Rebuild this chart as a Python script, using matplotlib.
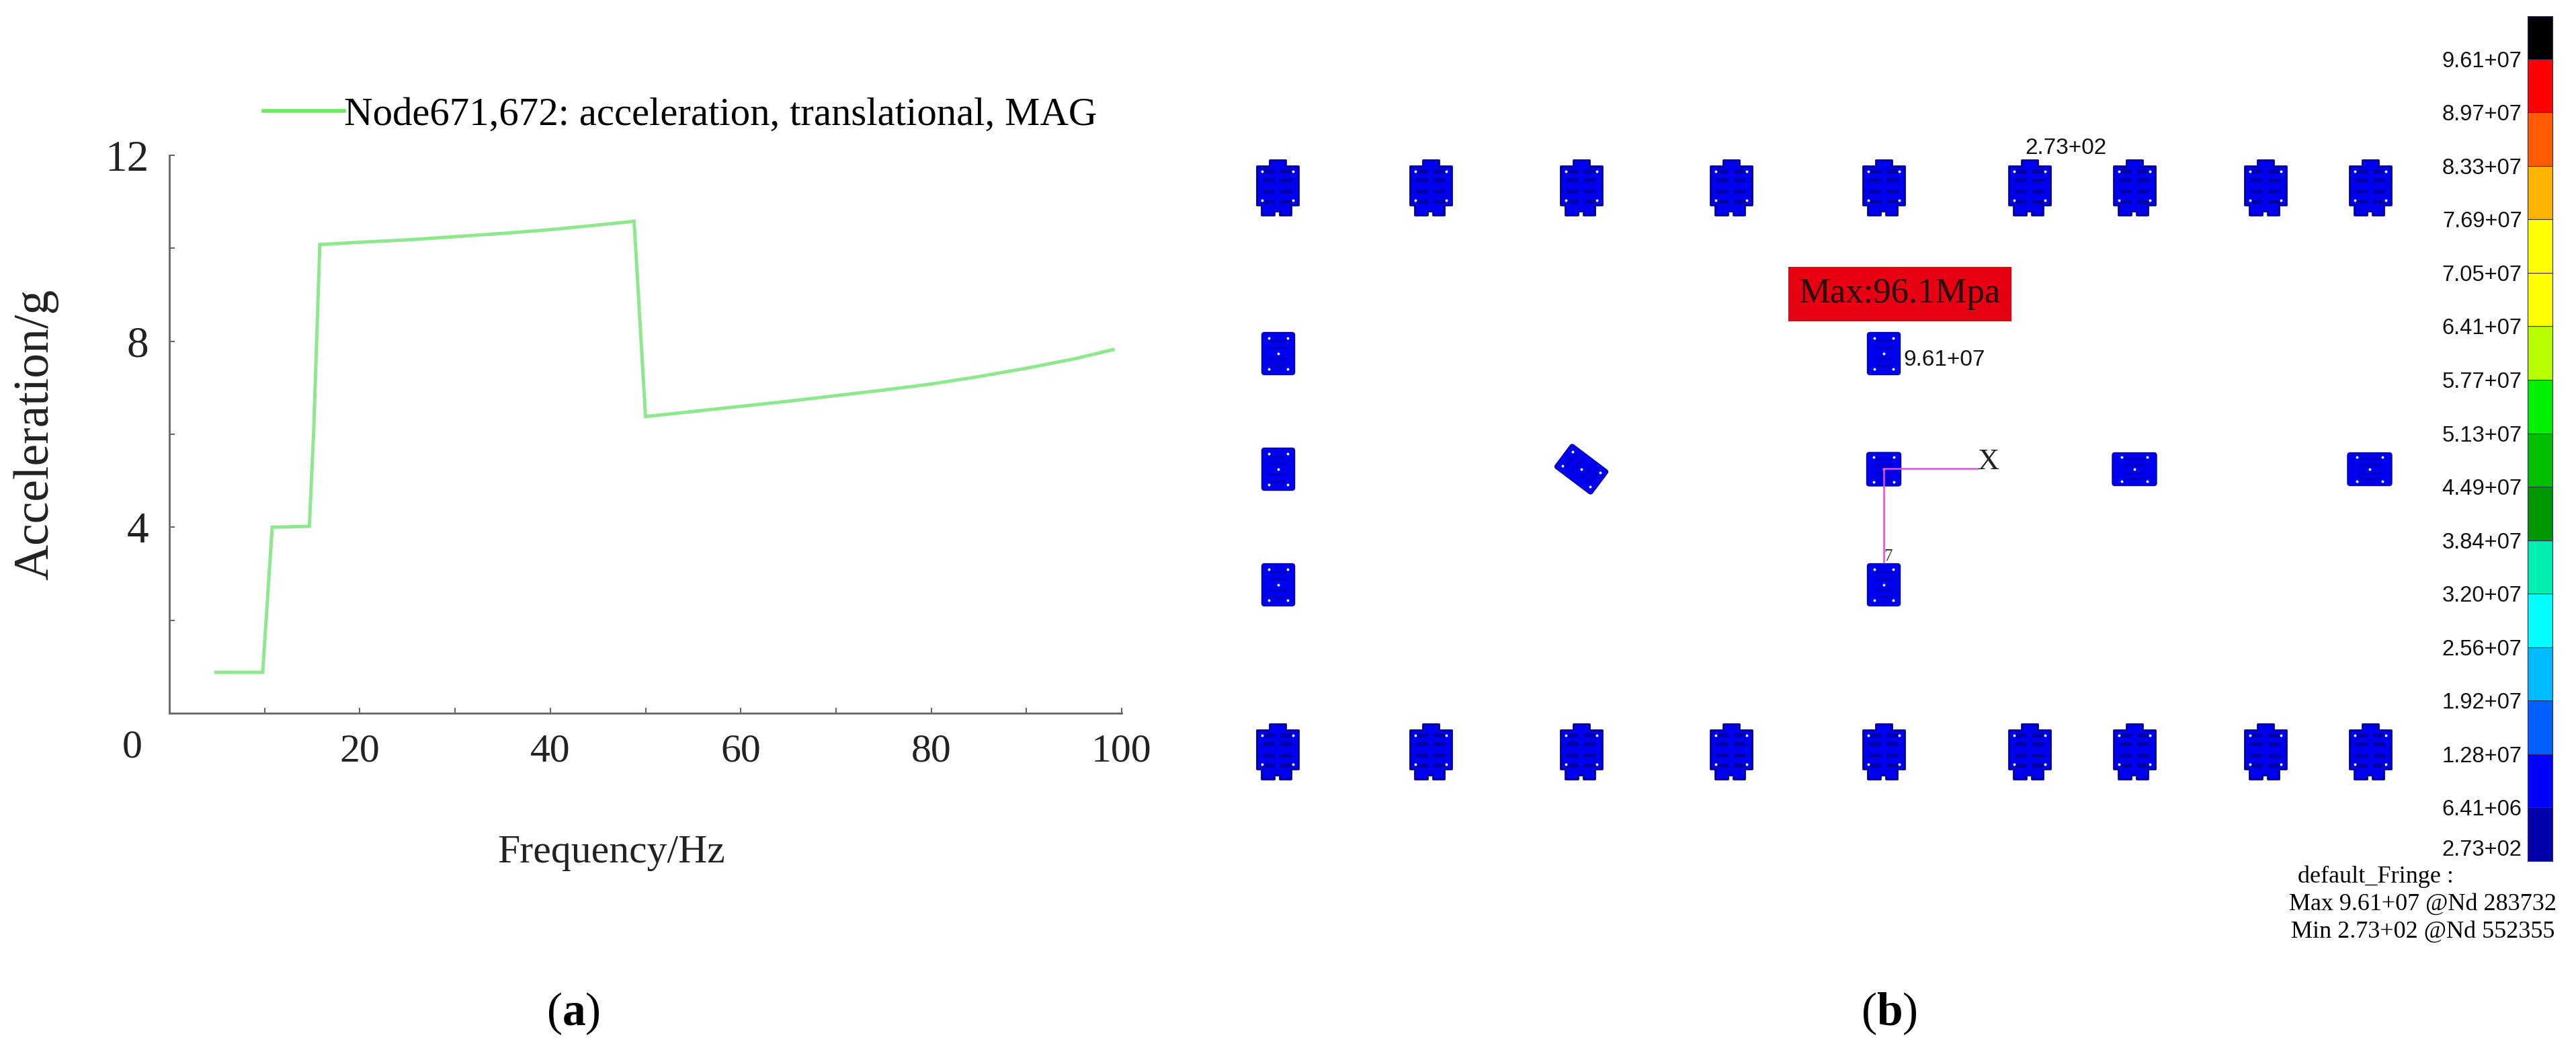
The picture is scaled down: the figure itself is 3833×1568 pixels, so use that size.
import matplotlib
matplotlib.use("Agg")

import matplotlib.pyplot as plt
import numpy as np
from matplotlib.patches import FancyBboxPatch, Polygon, Rectangle
from matplotlib.transforms import Affine2D

W, H = 3833, 1568
SERIF = "Liberation Serif"
SANS = "Liberation Sans"

plt.rcParams["font.family"] = SERIF
plt.rcParams["mathtext.fontset"] = "custom"
plt.rcParams["mathtext.rm"] = "Liberation Serif"
plt.rcParams["mathtext.bf"] = "Liberation Serif:bold"

# panel (a)
freq = [4.9, 9.8, 10.8, 14.7, 15.15, 15.8, 20, 25, 30, 35, 40, 45, 48.8, 50,
        55, 60, 65, 70, 75, 80, 85, 90, 95, 99.1]
accel = [0.88, 0.88, 4.0, 4.02, 6.04, 10.08, 10.13, 10.18, 10.25, 10.32, 10.4, 10.5, 10.58, 6.38,
         6.49, 6.6, 6.71, 6.83, 6.95, 7.08, 7.24, 7.42, 7.62, 7.82]
x_ticks = [20, 40, 60, 80, 100]
y_ticks = [4, 8, 12]
x_minor = [10, 30, 50, 70, 90]
y_minor = [2, 6, 10]

# panel (b), plate centres in picture pixels
row_x = [1901, 2129, 2353, 2576, 2803, 3020, 3176, 3371, 3527]
row_y = [279, 1118]
portrait_xy = [(1902, 526), (1902, 698), (1902, 870), (2803, 526), (2803, 870)]
square_xy = (2803, 698)
landscape_x = [3176, 3526]
landscape_y = 698
rotated_xy = (2353, 698)

fringe_values = ["2.73+02", "6.41+06", "1.28+07", "1.92+07", "2.56+07", "3.20+07", "3.84+07", "4.49+07",
                 "5.13+07", "5.77+07", "6.41+07", "7.05+07", "7.69+07", "8.33+07", "8.97+07", "9.61+07"]
fringe_positions = [0.25, 1, 2, 3, 4, 5, 6, 7, 8, 9, 10, 11, 12, 13, 14, 15]
fringe_colors = ["#0000a8", "#0000ff", "#0060ff", "#00bcff", "#00ffff", "#00eeb0", "#009600", "#00c000",
                 "#00f000", "#b8ff00", "#ffff00", "#ffff00", "#ffb400", "#ff5a00", "#ff0000", "#000000"]
fringe_heights = [1.0] * 15 + [0.8]

BLUE = "#0000f0"
DARK = "#000098"


def add_big_plate(ax, cx, cy):
    outline = [(-12, -41), (12, -41), (12, -32), (31, -32), (31, 26), (20, 26), (20, 41), (3, 41), (3, 35),
               (-5, 35), (-5, 41), (-24, 41), (-24, 26), (-31, 26), (-31, -32), (-12, -32)]
    ax.add_patch(Polygon([(cx + x, cy + y) for x, y in outline], closed=True, fc=BLUE, ec=DARK, lw=2,
                         joinstyle="round"))
    for my in [-24, -11, 6, 21]:
        for mx in [-13, 13]:
            ax.add_patch(Rectangle((cx + mx - 9, cy + my - 3), 18, 6, fc=DARK, ec="none", alpha=0.8))
    for hx, hy in [(-23, -24), (23, -24), (-23, 19), (23, 19)]:
        ax.plot(cx + hx, cy + hy, "o", ms=2.8, color="white", mew=0)


def add_small_plate(ax, cx, cy, w, h, angle=0.0):
    tr = Affine2D().rotate_deg_around(cx, cy, angle) + ax.transData
    ax.add_patch(FancyBboxPatch((cx - w / 2, cy - h / 2), w, h, boxstyle="round,pad=0,rounding_size=4",
                                fc=BLUE, ec=DARK, lw=1.0, transform=tr))
    for my in [-0.3, -0.12, 0.12, 0.3]:
        ax.add_patch(Rectangle((cx - w * 0.26, cy + my * h - 2), w * 0.52, 4, fc=DARK, ec="none",
                               alpha=0.45, transform=tr))
    for hx, hy in [(-0.29, -0.37), (0.29, -0.37), (-0.29, 0.37), (0.29, 0.37), (0, 0)]:
        ax.plot(cx + hx * w, cy + hy * h, "o", ms=2.8, color="white", mew=0, transform=tr)


fig = plt.figure(figsize=(W / 100, H / 100), dpi=100)

# panel (b) drawn in a full-figure axes with picture coordinates
ax_b = fig.add_axes([0, 0, 1, 1])
ax_b.set_xlim(0, W)
ax_b.set_ylim(H, 0)
ax_b.axis("off")

for cy in row_y:
    for cx in row_x:
        add_big_plate(ax_b, cx, cy)
for cx, cy in portrait_xy:
    add_small_plate(ax_b, cx, cy, 49, 63)
add_small_plate(ax_b, square_xy[0], square_xy[1], 51, 50)
for cx in landscape_x:
    add_small_plate(ax_b, cx, landscape_y, 66, 49)
add_small_plate(ax_b, rotated_xy[0], rotated_xy[1], 44, 69, angle=-53)

ax_b.plot([2803, 2943], [697, 697], color="#e050e0", lw=1.8)
ax_b.plot([2803, 2803], [697, 836], color="#e050e0", lw=1.8)
ax_b.text(2959, 687, "X", fontsize=32, ha="center", va="center", color="#222222")
ax_b.text(2810, 828, "7", fontsize=18, ha="center", va="center", color="#333333")

ax_b.add_patch(Rectangle((2661, 397), 332, 81, fc="#e60012", ec="none"))
ax_b.text(2827, 437, "Max:96.1Mpa", fontsize=38, ha="center", va="center", color="#241010")
ax_b.text(2893, 535, "9.61+07", fontsize=24, ha="center", va="center", family=SANS, color="#111111")
ax_b.text(3074, 220, "2.73+02", fontsize=24, ha="center", va="center", family=SANS, color="#111111")

ax_b.text(3535, 1304, "default_Fringe :", fontsize=26, ha="center", va="center")
ax_b.text(3605, 1345, "Max 9.61+07 @Nd 283732", fontsize=26, ha="center", va="center")
ax_b.text(3605, 1386, "Min 2.73+02 @Nd 552355", fontsize=26, ha="center", va="center")

ax_b.text(853, 1508, r"($\mathbf{a}$)", fontsize=50, ha="center", va="center")
ax_b.text(2811, 1508, r"($\mathbf{b}$)", fontsize=50, ha="center", va="center")

# panel (a)
ax = fig.add_axes([252 / W, 1 - 1061 / H, (1669 - 252) / W, 830 / H])
ax.patch.set_alpha(0)
ax.plot(freq, accel, color="#8ee88e", lw=3.6, solid_joinstyle="miter",
        label="Node671,672: acceleration, translational, MAG")
ax.set_xlim(0, 100)
ax.set_ylim(0, 12)
ax.spines["top"].set_visible(False)
ax.spines["right"].set_visible(False)
for side in ["left", "bottom"]:
    ax.spines[side].set_color("#666666")
    ax.spines[side].set_linewidth(2.0)

ax.set_xticks(x_ticks)
ax.set_yticks(y_ticks)
ax.set_xticks(x_minor, minor=True)
ax.set_yticks(y_minor, minor=True)
ax.tick_params(which="both", direction="in", length=6, width=1.5, color="#666666")
ax.tick_params(axis="x", labelsize=43, pad=22, labelcolor="#222222")
ax.tick_params(axis="y", labelsize=47, pad=22, labelcolor="#222222")
ax.annotate("0", xy=(0, 0), xytext=(-40, -37), textcoords="offset points", fontsize=43,
            ha="center", va="center", color="#222222")
ax.set_xlabel("Frequency/Hz", fontsize=43, color="#222222", va="center")
ax.xaxis.set_label_coords(0.464, -0.25)
ax.set_ylabel("Acceleration/g", fontsize=53, color="#222222", va="center")
ax.yaxis.set_label_coords(-0.14, 0.5)

leg = ax.legend(loc="lower left", bbox_to_anchor=(138 / 1417, 1.0), frameon=False, fontsize=42.4,
                handlelength=2.03, handletextpad=0.0, borderpad=0, borderaxespad=0.9)
leg.get_lines()[0].set_color("#66ee55")
leg.get_lines()[0].set_linewidth(4)
leg.set_bbox_to_anchor((0.0617, 0.975), transform=ax.transAxes)

# fringe bar
ax_c = fig.add_axes([3761 / W, 1 - 1281 / H, 37 / W, (1281 - 24) / H])
ax_c.bar(np.full(len(fringe_colors), 0.5), fringe_heights, width=1.0,
         bottom=np.arange(len(fringe_colors)), color=fringe_colors, edgecolor="#303060", linewidth=0.8)
ax_c.set_xlim(0, 1)
ax_c.set_ylim(0, sum(fringe_heights))
ax_c.set_xticks([])
ax_c.set_yticks(fringe_positions)
ax_c.set_yticklabels(fringe_values, family=SANS, fontsize=23.5, color="#111111")
ax_c.tick_params(axis="y", length=0, pad=6)
for spine in ax_c.spines.values():
    spine.set_color("#303060")

fig.savefig("out.png", dpi=100)
plt.close(fig)
